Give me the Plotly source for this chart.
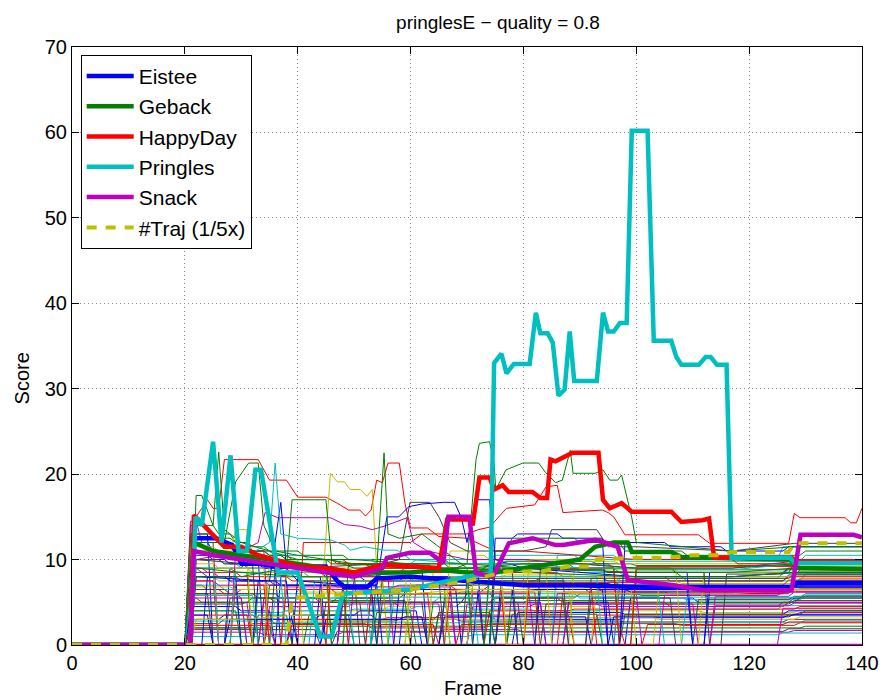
import plotly.graph_objects as go

# ---------------- data ----------------
SEG = [0, 21, 25, 28, 31, 34, 37, 40, 45, 48, 52, 55, 59, 63, 66, 70, 73, 76, 80, 84, 88,
       92, 96, 99, 103, 107, 111, 114, 117, 128, 138]
BG_SHIFT = [0, 1, -1, 2, -2, 1, 0, -1, 2, 1, -2, 0, 1, -1]

THIN_COLORS = ['#0000FF', '#008000', '#FF0000', '#00BFBF', '#BF00BF', '#BFBF00', '#404040']

bg_lines = [
    [0, 12, 11, 10, 9, 9, 8.5, 8.5, 8, 8, 8, 7.5, 7.5, 7.5, 7, 7, 7.5, 7.5, 7.5, 7.5, 7, 7, 7, 6.5, 6.5, 6.5, 6.5, 6.5, 6.5, 7, 7],
    [0, 14, 13, 12, 11, 10.5, 10, 10, 9.5, 9.5, 9, 9, 9.5, 9.5, 9, 9, 9.5, 9.5, 9.5, 9.5, 9, 9, 8.5, 8.5, 8.5, 8, 8, 8, 8, 8.8, 8.8],
    [0, 7, 6.5, 6, 6, 5.5, 5.5, 5.5, 5, 5, 5, 5, 4.5, 4.5, 4.5, 5, 5, 5.5, 5.5, 5.5, 5, 5, 5, 5, 5, 4.5, 4.5, 4.5, 4.5, 5, 5],
    [0, 10, 9.5, 9, 9, 8.5, 8.5, 8, 8, 7.5, 7.5, 7.5, 8, 8, 8, 8.5, 8.5, 9, 9, 9, 8.5, 8.5, 8, 8, 8, 7.5, 7.5, 7.5, 7.5, 8.3, 8.3],
    [0, 9, 8.5, 8, 7.5, 7.5, 7, 7, 7, 6.5, 6.5, 6.5, 6.5, 7, 7, 6.5, 6.5, 7, 7, 7, 6.5, 6.5, 6.5, 6, 6, 6, 6, 6, 6, 6.5, 6.5],
    [0, 5, 5, 4.5, 4.5, 4.5, 4, 4, 4, 4, 4, 4.5, 4.5, 4.5, 4, 4, 4, 4.5, 4.5, 4.5, 4.5, 4, 4, 4, 4, 4, 3.8, 3.8, 3.8, 4.2, 4.2],
    [0, 11, 10.5, 10, 10, 9.5, 9.5, 9, 9, 8.5, 8.5, 8.5, 9, 9, 8.5, 8.5, 9, 10, 10, 10, 9.5, 9.5, 9, 9, 9, 8.5, 8.5, 8.5, 8.5, 9.5, 9.5],
    [0, 3, 3, 3.5, 3.5, 3, 3, 3, 3.5, 3.5, 3.5, 3, 3, 3, 3.5, 3.5, 3.5, 3, 3, 3, 3, 3, 3, 3.2, 3.2, 3.2, 3.2, 3.2, 3.2, 3.5, 3.5],
    [0, 6, 6, 5.5, 5.5, 5, 5, 5, 5.5, 5.5, 5.5, 6, 6, 6, 6, 6, 5.5, 5.5, 5.5, 5.5, 6, 6, 6, 5.8, 5.8, 5.8, 5.5, 5.5, 5.5, 6, 6],
    [0, 2, 2, 2, 2.5, 2.5, 2.5, 2.5, 2.5, 2.5, 2, 2, 2, 2, 2, 2, 2.5, 2.5, 2.5, 2.5, 2.5, 2.5, 2.5, 2.5, 2.5, 2.3, 2.3, 2.3, 2.3, 2.6, 2.6],
    [0, 4, 4, 4, 3.8, 3.8, 3.8, 4, 4, 4, 4.2, 4.2, 4.2, 4.5, 4.5, 4.5, 4.2, 4.2, 4.2, 4, 4, 4, 4.2, 4.2, 4.2, 4.2, 4.2, 4.2, 4.2, 4.6, 4.6],
    [0, 1.5, 1.5, 1.5, 1.5, 1.2, 1.2, 1.2, 1.2, 1.5, 1.5, 1.5, 1.5, 1.5, 1.8, 1.8, 1.8, 1.8, 1.5, 1.5, 1.5, 1.5, 1.5, 1.5, 1.5, 1.5, 1.5, 1.5, 1.5, 1.7, 1.7],
    [0, 8, 7.5, 7, 7, 6.5, 6.5, 6, 6, 6, 6, 6.5, 6.5, 6.5, 6.5, 7, 7, 7.5, 7.5, 7, 7, 7, 7, 7, 6.8, 6.8, 6.8, 6.8, 6.8, 7.5, 7.5],
    [0, 2.5, 2.5, 3, 3, 3, 2.5, 2.5, 2.5, 2.8, 2.8, 2.8, 3, 3, 3, 2.8, 2.8, 2.8, 2.8, 2.8, 2.8, 2.8, 2.8, 2.7, 2.7, 2.7, 2.7, 2.7, 2.7, 3, 3],
    [0, 13, 0, 9, 10, 0, 8, 8, 0, 7, 7, 9, 9, 0, 5, 6, 0, 5, 5, 0, 5, 5, 0, 5.5, 5.5, 5.5, 5, 5, 5, 5.5, 5.5],
    [0, 9, 9, 8.5, 0, 7, 7, 7.5, 7.5, 0, 6, 6, 6.5, 6.5, 0, 7, 7, 7, 7.5, 7.5, 7.5, 7.5, 7, 7, 7, 7, 7, 7, 7, 7.8, 7.8],
    [0, 12, 12, 11.5, 11, 11, 10.5, 10, 10, 9.5, 9.5, 9.5, 9.5, 9, 9, 8.5, 8, 8.5, 8.5, 8.5, 8, 8, 8, 8, 8, 7.5, 7.5, 7.5, 7.5, 8, 8],
    [0, 7, 6.5, 0, 6, 6, 6, 5.5, 5.5, 5.5, 0, 5, 5, 5.5, 5.5, 5.5, 6, 6, 6, 6, 5.5, 5.5, 5.5, 5.5, 5.5, 5.3, 5.3, 5.3, 5.3, 5.8, 5.8],
    [0, 5.5, 5, 5, 5, 0, 4.5, 4.5, 4.5, 4.5, 5, 5, 5, 5, 5, 0, 4.5, 4.5, 4.5, 4.8, 4.8, 4.8, 4.5, 4.5, 4.5, 4.5, 4.5, 4.5, 4.5, 5, 5],
    [0, 11, 10.5, 13.5, 10, 9.5, 9, 8.5, 8.5, 8, 8, 0, 7, 7, 7.5, 7.5, 7, 7, 7, 7, 8, 8, 7.5, 7.5, 7.5, 7.2, 7.2, 7.2, 7.2, 7.8, 7.8],
    [0, 6.5, 6.5, 6, 6, 6, 5.5, 5.5, 0, 5.5, 5.5, 5.5, 6, 6, 6, 6, 6.5, 6.5, 6.5, 6.5, 6.5, 6, 6, 6, 6, 6, 6, 6, 6, 6.8, 6.8],
    [0, 4.5, 4.5, 4.5, 4, 4, 0, 3.5, 3.5, 3.5, 4, 4, 4, 0, 3.8, 3.8, 3.8, 0, 3.8, 3.8, 3.8, 3.8, 3.8, 3.6, 3.6, 3.6, 3.6, 3.6, 3.6, 4, 4],
    [0, 2, 2, 2, 2, 2.2, 2.2, 2.2, 2.2, 2.2, 2.2, 2.2, 2.2, 2.2, 2.2, 2.2, 2.2, 2, 2, 2, 2, 2, 2, 2, 2, 2, 2, 2, 2, 2.2, 2.2],
    [0, 3.5, 3.5, 3.5, 0, 3, 3, 3, 3, 3, 3, 3.2, 3.2, 3.2, 3.2, 3.5, 3.5, 3.5, 3.5, 3.5, 0, 3.5, 3.5, 3.5, 3.5, 3.5, 3.5, 3.5, 3.5, 3.8, 3.8],
    [0, 1, 1, 1, 1, 1, 1, 1, 1, 1, 1, 1, 1, 1, 1, 1, 1.2, 1.2, 1.2, 1.2, 1.2, 1.2, 1.2, 1.2, 1.2, 1.2, 1.2, 1.2, 1.2, 1.4, 1.4],
    [0, 0, 0, 0, 0, 0, 0, 0, 0, 0, 0, 0, 0, 0, 0, 0, 0, 0, 0, 0, 0, 0, 0, 0, 0, 0, 0, 0, 0, 0, 0],
    [0, 3, 3, 3, 3, 3, 2.8, 2.8, 2.8, 2.8, 2.8, 2.8, 0, 3, 3, 3, 3, 3, 3.2, 3.2, 3.2, 3.2, 3.2, 3.2, 3, 3, 3, 3, 3, 3.3, 3.3],
    [0, 8.5, 8, 8, 7.5, 7.5, 7, 7, 7, 6.8, 6.8, 6.8, 7, 7, 7, 7, 7.5, 7.5, 7.5, 7.8, 7.8, 7.8, 7.5, 7.5, 7.5, 7.5, 7.5, 7.5, 7.5, 8.2, 8.2],
    [0, 10.5, 10, 9.5, 9.5, 9, 0, 8, 8, 8, 7.5, 7.5, 8, 8, 8, 8, 0, 7, 7, 7, 7.2, 7.2, 7, 7, 7, 6.8, 6.8, 6.8, 6.8, 7.2, 7.2],
    [0, 5, 5, 5, 5.5, 5.5, 5.5, 5.5, 5.2, 5.2, 5.2, 5.2, 0, 5, 5, 5, 5, 5, 5.2, 5.2, 5.2, 5.2, 5.2, 5, 5, 5, 5, 5, 5, 5.5, 5.5],
    [0, 6, 6, 6, 6.5, 6.5, 6.5, 6.5, 6.5, 6, 6, 6, 6, 6, 6, 6.2, 6.2, 6.2, 6.2, 0, 6.2, 6.2, 6.2, 6.2, 6.2, 6, 6, 6, 6, 6.3, 6.3],
    [0, 2.8, 2.8, 2.8, 2.8, 2.6, 2.6, 2.6, 2.6, 2.6, 2.6, 2.6, 2.6, 2.6, 2.6, 2.6, 2.6, 2.6, 2.6, 2.6, 2.6, 2.6, 2.6, 2.6, 2.6, 2.6, 2.6, 2.6, 2.6, 2.9, 2.9],
    [0, 7.5, 7.5, 7, 7, 7, 7, 6.8, 6.8, 6.8, 6.5, 6.5, 6.8, 6.8, 6.8, 0, 6.5, 6.5, 6.5, 6.5, 6.5, 6.5, 6.3, 6.3, 6.3, 6.3, 6.3, 6.3, 6.3, 6.8, 6.8],
    [0, 9.5, 9, 9, 8.5, 8.5, 8, 8, 7.5, 7.5, 7.5, 7.5, 7.5, 7.5, 8, 8, 8, 8.2, 8.2, 8.2, 8, 8, 8, 8, 8, 8, 8, 8, 8, 8.6, 8.6],
    [0, 4.8, 4.8, 4.8, 5, 5, 5, 5, 5, 5, 5, 5, 5, 5, 5, 5, 5, 5, 0, 4.8, 4.8, 4.8, 4.8, 4.8, 4.8, 4.8, 4.8, 4.8, 4.8, 5.2, 5.2],
    [0, 0, 0, 0, 0, 0, 0, 0, 0, 0, 0, 0, 0, 0, 0, 0, 0, 9, 9, 9, 8.8, 8.8, 8.5, 8.5, 8.5, 8.5, 0, 8.5, 8.5, 9, 9],
    [0, 0, 0, 0, 0, 0, 0, 0, 0, 0, 0, 0, 0, 0, 0, 0, 0, 6.5, 6.5, 6.5, 6.5, 6.8, 6.8, 6.8, 6.8, 6.8, 6.8, 6.8, 6.8, 7.2, 7.2],
    [0, 0, 0, 0, 0, 0, 0, 0, 0, 0, 0, 0, 0, 0, 0, 0, 4, 4, 4, 4, 4.2, 4.2, 4.2, 4.2, 4.2, 4.2, 4.2, 4.2, 4.2, 4.5, 4.5],
    [0, 0, 0, 0, 0, 0, 0, 0, 0, 0, 0, 0, 0, 0, 0, 0, 0, 0, 0, 0, 10.5, 10.5, 10.5, 10, 10, 10, 10, 10, 10, 11.5, 11.5],
    [0, 0, 0, 0, 0, 0, 0, 0, 0, 0, 0, 0, 0, 0, 0, 0, 0, 0, 0, 0, 0, 0, 0, 0, 0, 0, 0, 5.7, 5.7, 6.2, 6.2],
    [0, 6.8, 6.8, 6.5, 6.5, 6.5, 6.5, 6.2, 6.2, 6.2, 6, 6, 6, 6, 6.2, 6.2, 6.2, 6.2, 6.2, 6.2, 6.2, 6.2, 6.2, 6.2, 6.2, 6.2, 6.2, 6.2, 6.2, 6.6, 6.6],
    [0, 1.8, 1.8, 1.8, 1.8, 1.8, 1.8, 1.8, 0, 1.6, 1.6, 1.6, 1.6, 1.6, 1.6, 1.6, 1.6, 1.6, 1.6, 1.6, 1.6, 1.6, 1.6, 1.6, 1.6, 1.6, 1.6, 1.6, 1.6, 1.9, 1.9],
    [0, 8, 8, 7.5, 7.5, 7.5, 7, 7, 7, 7, 7, 0, 6.5, 6.5, 6.5, 6.5, 6.5, 6.5, 6.5, 6.5, 6.5, 6.5, 6.5, 6.2, 6.2, 6.2, 6.2, 6.2, 6.2, 6.7, 6.7],
    [0, 13, 12.5, 12, 11.5, 11, 11, 10.5, 10.5, 10, 10, 10, 10, 10, 9.5, 9.5, 9.5, 9.8, 9.8, 9.8, 9.8, 9.5, 9.5, 9.3, 9.3, 9.3, 9.3, 9.3, 9.3, 9.8, 9.8],
    [0, 9, 8.5, 8.5, 8, 8, 8, 7.5, 7.5, 7.5, 7.5, 7.5, 7.5, 7.5, 7.5, 7.5, 7.3, 7.3, 7.3, 7.3, 7.3, 7.3, 7.3, 7.3, 7.3, 7, 7, 7, 7, 7.6, 7.6],
    [0, 12, 11.5, 11, 11, 10.5, 10.5, 10, 10, 10, 9.5, 9.5, 10, 10, 10, 10, 10.5, 10.5, 10.5, 10.5, 10, 10, 9.8, 9.8, 9.8, 9.8, 9.8, 9.8, 9.8, 10.5, 10.5],
    [0, 14.5, 12, 0, 11, 11, 0, 9, 9, 0, 8, 8, 0, 7, 7, 0, 6, 6, 6, 0, 6, 6, 6, 6, 0, 5.8, 5.8, 5.8, 5.8, 6.2, 6.2],
    [0, 10, 0, 9, 9, 0, 8, 8, 0, 7.5, 7.5, 0, 7, 7, 0, 7, 7, 0, 7, 7, 0, 7, 7, 0, 6.8, 6.8, 6.8, 6.8, 6.8, 7.4, 7.4],
    [0, 6, 0, 5.5, 0, 5.5, 5, 0, 5, 5, 0, 5, 5, 0, 5.5, 5.5, 0, 5.5, 5.5, 5.5, 0, 5.5, 5.5, 5.5, 5.5, 0, 5.3, 5.3, 5.3, 5.7, 5.7],
    [0, 0, 8, 8, 0, 7.5, 7.5, 0, 7, 7, 7, 0, 6.5, 6.5, 6.5, 0, 6.5, 6.5, 0, 6.5, 6.5, 6.5, 0, 6.5, 6.5, 6.5, 0, 6.3, 6.3, 6.9, 6.9],
    [0, 4, 4, 0, 3.5, 3.5, 0, 3.5, 3.5, 0, 3.8, 3.8, 0, 3.8, 3.8, 3.8, 0, 3.6, 3.6, 3.6, 3.6, 0, 3.6, 3.6, 3.6, 3.6, 3.6, 3.6, 3.6, 4, 4],
    [0, 7.5, 0, 7, 7, 0, 6.5, 6.5, 6.5, 0, 6, 6, 6, 0, 6.5, 6.5, 6.5, 0, 6.8, 6.8, 6.8, 0, 6.8, 6.8, 6.8, 6.8, 6.8, 6.8, 6.8, 7.2, 7.2],
    [0, 9, 9, 0, 8.5, 8.5, 8, 0, 7.5, 7.5, 7.5, 0, 7.5, 7.5, 7.5, 7.5, 0, 8, 8, 8, 8, 8, 0, 7.8, 7.8, 7.8, 7.8, 7.8, 7.8, 8.4, 8.4],
    [0, 5.5, 5.5, 5.5, 0, 5, 5, 5, 0, 4.8, 4.8, 4.8, 4.8, 4.8, 0, 4.8, 4.8, 4.8, 4.8, 0, 4.8, 4.8, 4.8, 4.8, 4.8, 4.8, 0, 4.6, 4.6, 4.9, 4.9],
    [0, 11.5, 11, 10.5, 0, 10, 10, 0, 9, 9, 9, 9, 0, 8.5, 8.5, 8.5, 8.5, 8.8, 8.8, 0, 8.8, 8.8, 8.8, 8.8, 8.8, 0, 8.5, 8.5, 8.5, 9.2, 9.2],
    [0, 10, 10, 9.5, 9.5, 0, 9, 9, 9, 8.5, 0, 8.5, 8.5, 8.5, 8.5, 8.5, 8.8, 8.8, 0, 8.8, 8.8, 8.8, 8.5, 8.5, 8.5, 8.5, 8.5, 0, 8.3, 8.9, 8.9],
    [0, 3.5, 0, 3, 3, 3, 3, 0, 3, 3, 3, 3, 3.3, 0, 3.3, 3.3, 3.3, 3.3, 3.3, 3.3, 3.3, 0, 3.3, 3.3, 3.3, 3.3, 3.3, 3.3, 3.3, 3.6, 3.6],
    [0, 12.5, 12, 11.5, 11, 10.5, 10, 10, 0, 9.5, 9.5, 9.5, 9.5, 9, 9, 0, 9, 9, 9, 9, 9, 9, 0, 8.8, 8.8, 8.8, 8.8, 8.8, 8.8, 9.4, 9.4],
    [0, 2.3, 2.3, 2.3, 2.3, 2.3, 0, 2.4, 2.4, 2.4, 2.4, 2.4, 2.4, 2.4, 0, 2.4, 2.4, 2.4, 2.4, 2.4, 2.4, 2.4, 2.4, 0, 2.4, 2.4, 2.4, 2.4, 2.4, 2.7, 2.7],
    [0, 5.8, 5.8, 5.8, 0, 5.5, 5.5, 5.5, 5.5, 0, 5.6, 5.6, 5.6, 5.6, 5.6, 0, 5.7, 5.7, 5.7, 5.7, 5.7, 5.7, 5.7, 5.7, 0, 5.6, 5.6, 5.6, 5.6, 6, 6],
    [0, 0, 0, 0, 0, 0, 0, 0, 0, 0, 0, 0, 0, 0, 0, 0, 0, 0, 0, 0, 0, 0, 0, 0, 0, 0, 0, 0, 0, 4.3, 4.3],
    [0, 0, 0, 0, 0, 0, 0, 0, 0, 0, 0, 0, 0, 0, 11, 10.5, 10, 0, 10, 10, 9.8, 9.8, 9.5, 9.5, 9.5, 9.5, 9.5, 9.5, 9.5, 10, 10],
    [0, 0, 0, 0, 0, 0, 0, 0, 0, 0, 0, 8, 8, 8, 0, 7.8, 7.8, 7.8, 7.8, 7.8, 0, 7.8, 7.8, 7.8, 7.8, 7.8, 7.8, 7.8, 7.8, 8.3, 8.3],
    [0, 0, 0, 0, 0, 0, 0, 0, 0, 0, 0, 0, 0, 0, 0, 0, 0, 12.5, 13, 13, 12.5, 12.5, 0, 12, 12, 11.5, 11.5, 11.5, 11, 11.5, 11.5],
    [0, 0, 0, 0, 0, 0, 0, 0, 0, 0, 0, 0, 0, 0, 0, 0, 11, 12.5, 12.5, 12.5, 12, 12, 11, 11, 11, 10.5, 10.5, 10.5, 10.5, 11, 11],
    [0, 0, 0, 0, 0, 0, 0, 0, 10, 9.5, 9, 9, 9, 8.5, 8.5, 8.5, 8.5, 8.5, 8.5, 9, 9, 9, 0, 9.2, 9.2, 9.2, 9.2, 9.2, 9.2, 9.6, 9.6],
]

# distinctive thin trajectories: frames and scores
sp_red1_x = [0, 21, 22, 24, 25, 26, 27, 33, 35, 38, 40, 45, 47, 49, 51, 52, 53, 54, 55, 56, 58, 59, 60, 63, 65, 70, 75, 80, 90, 100, 117, 118, 127, 128, 140]
sp_red1_y = [0, 0, 15, 17, 16, 16, 21.7, 21.7, 19.3, 19.3, 17.3, 17.3, 16.6, 15.8, 15.8, 15.1, 15.8, 19.3, 19, 21.3, 21.3, 16.6, 13.7, 13.7, 12.7, 12.5, 11, 11, 10.5, 10, 10, 9.5, 9.5, 10, 10]
sp_red2_x = [0, 40, 41, 60, 62, 70, 72, 74, 77, 82, 84, 86, 87, 94, 95, 96, 98, 111, 113, 117, 127, 128, 129, 137, 138, 139, 140]
sp_red2_y = [0, 0, 12, 12, 13, 13, 13.5, 13.8, 16.0, 16.4, 18.5, 18.7, 15.5, 15.8, 15.5, 15.0, 12.9, 12.9, 11.9, 11.9, 11.9, 15.4, 14.9, 14.9, 14.3, 14.3, 16]
sp_grn1_x = [0, 21, 22, 30, 40, 50, 60, 68, 70, 71.6, 72.2, 74, 74.8, 75.1, 76.9, 79.9, 82.7, 83.9, 85.7, 86.9, 88.3, 88.8, 92.7, 94.1, 95.3, 96.7, 97.4, 99.2, 100, 117, 128, 140]
sp_grn1_y = [0, 0, 9, 8.5, 8, 8, 8.5, 9, 9.5, 21.7, 23.6, 23.8, 21.3, 18.2, 20.5, 21.3, 21.3, 20.2, 19.0, 19.3, 22.8, 20.1, 20.1, 20.5, 19.3, 19.3, 19.9, 14.9, 12, 11, 11.5, 11.5]
sp_olv_x = [0, 21, 22, 30, 40, 44, 45.8, 47, 48.3, 49.3, 51.1, 52.3, 53.2, 53.5, 54, 55, 60, 70, 80, 90, 100, 117, 128, 140]
sp_olv_y = [0, 0, 3, 3, 3.5, 3.5, 20.1, 19.1, 19.1, 18.2, 18.2, 17.4, 18.2, 15, 9, 6, 6, 6.5, 6.5, 6, 6, 6, 6.5, 6.5]
sp_mag_x = [0, 21, 22, 30, 33, 34.2, 36.5, 42.3, 45.8, 48.3, 51.1, 53.2, 55.3, 59.4, 60.5, 63, 70, 80, 100, 117, 128, 140]
sp_mag_y = [0, 0, 10, 11, 12, 15.5, 14.9, 14.9, 14.9, 14.1, 13.9, 13.5, 13.9, 14.9, 12, 11, 10, 10, 9, 9, 9.8, 9.8]
sp_gry_x = [0, 21, 22, 40, 55, 58, 59.9, 63.4, 65.1, 67, 70, 80, 84, 85, 93, 95, 100, 117, 128, 140]
sp_gry_y = [0, 0, 10, 9, 9.5, 10, 16.7, 16.7, 14.9, 12, 11, 11, 11.5, 13.5, 13.5, 11.5, 11.5, 11, 11.9, 11.9]
sp_blu_x = [0, 21, 22, 35, 36, 37, 38, 40, 50, 54, 55.8, 57.9, 59.7, 62, 65.8, 67.8, 69, 70, 71.6, 74, 75, 80, 90, 100, 117, 128, 140]
sp_blu_y = [0, 0, 8, 7.5, 12, 16.7, 9, 7.5, 7, 7, 15, 15, 16.2, 16.5, 16.7, 16.7, 14.9, 12, 17, 17, 10, 9, 8.5, 8, 8, 8.5, 8.5]
sp_cyn_x = [0, 21, 22, 30, 35, 36, 37, 40, 45.8, 48.3, 49.3, 51.8, 55.3, 57.6, 60, 70, 80, 90, 100, 117, 128, 140]
sp_cyn_y = [0, 0, 11, 10, 12, 21.3, 13, 12.5, 12.3, 11.7, 11.1, 11.5, 11.1, 11.1, 10, 9.5, 9.5, 9, 9, 8.8, 9.5, 9.5]
sp_grn2_x = [0, 21, 22, 23, 25, 26, 27, 30, 35, 40, 45, 50, 60, 70, 80, 90, 100, 117, 128, 140]
sp_grn2_y = [0, 0, 17.5, 17.5, 14, 22.6, 13.5, 12, 11, 10, 10, 9.5, 9, 9, 9.5, 9.5, 9, 9, 9.5, 9.5]
sp_grn3_x = [0, 21, 22, 30, 38, 39, 43, 45, 46, 50, 54, 55.3, 56, 58, 62, 70, 80, 100, 117, 128, 140]
sp_grn3_y = [0, 0, 8, 8, 9, 17, 17, 17, 10, 9, 9, 22.5, 13, 12.5, 13, 9, 8.5, 8, 8, 8.5, 8.5]
sp_grn4_x = [0, 21, 22, 27, 29, 31.3, 33, 34, 36, 40, 45, 50, 60, 70, 80, 100, 117, 128, 140]
sp_grn4_y = [0, 0, 12, 12, 19.1, 21.3, 21.3, 14, 11, 10.5, 10, 10, 9.5, 9.5, 9, 8.5, 8.5, 9, 9]

special = [
    ('#FF0000', sp_red1_x, sp_red1_y), ('#FF0000', sp_red2_x, sp_red2_y),
    ('#008000', sp_grn1_x, sp_grn1_y), ('#BFBF00', sp_olv_x, sp_olv_y),
    ('#BF00BF', sp_mag_x, sp_mag_y), ('#404040', sp_gry_x, sp_gry_y),
    ('#0000FF', sp_blu_x, sp_blu_y), ('#00BFBF', sp_cyn_x, sp_cyn_y),
    ('#008000', sp_grn2_x, sp_grn2_y), ('#008000', sp_grn3_x, sp_grn3_y),
    ('#008000', sp_grn4_x, sp_grn4_y),
]

# class score curves
eistee_x = [0, 21, 21.6, 25.5, 28.4, 30, 33, 36.6, 38.4, 45, 47, 48.3, 52.3, 54, 60, 70, 80, 90, 100, 110, 117, 127.5, 128.5, 140]
eistee_y = [0, 0, 12.5, 12.5, 11.7, 9.5, 9.5, 9.2, 9.2, 9.2, 7.5, 6.8, 6.8, 7.8, 8, 7.5, 7, 7, 6.8, 6.8, 6.8, 6.8, 7.3, 7.3]
geback_x = [0, 21, 21.6, 25, 30, 35, 40, 45, 50, 55, 60, 65, 70, 75, 80, 85, 90, 92.7, 96, 98.5, 99.2, 106.2, 108, 113.8, 127.3, 128.5, 140]
geback_y = [0, 0, 12, 11, 10.5, 10, 9.5, 9, 8.5, 8.5, 8.5, 8.8, 8.5, 8.5, 9, 9.5, 10, 11.5, 12, 12, 10.9, 10.9, 10.3, 10.2, 10.0, 9.0, 8.9]
happy_x = [0, 21, 21.6, 24, 27, 30, 33, 36, 40, 45, 50, 55, 60, 65, 66.5, 70.5, 71, 72.2, 74, 74.8, 76.3, 77.4, 81.6, 83, 84.2, 84.8, 85.7, 87.4, 88.7, 93.3, 94.1, 95.3, 97.4, 99.2, 106.2, 108, 111.7, 112.9, 113.8, 127.5, 128.5, 140]
happy_y = [0, 0, 15.2, 13.5, 11.5, 11.5, 10.5, 10, 9.2, 9, 8.5, 9.4, 9.2, 9, 14.7, 14.7, 14.0, 19.6, 19.6, 18.2, 18.7, 17.9, 17.9, 17.2, 17.2, 21.7, 21.5, 22.0, 22.5, 22.5, 17.0, 16.0, 16.6, 15.6, 15.6, 14.4, 14.6, 14.8, 10.2, 10.2, 9.8, 9.8]
pringles_x = [0, 21, 21.9, 23, 25, 26.5, 28.1, 29.5, 31, 32.5, 33.5, 36.5, 40, 44, 46, 48, 60, 70, 74.2, 74.8, 76.1, 77.0, 78.3, 81.1, 82.2, 83.0, 84.3, 85.2, 86.2, 87.3, 88.2, 89.0, 93.0, 94.1, 95.0, 96.0, 97.1, 98.3, 99.2, 102.0, 103.1, 106.2, 107.1, 108.0, 111.1, 112.3, 113.2, 114.3, 116.0, 116.9, 127.3, 128, 140]
pringles_y = [0, 0, 15, 14, 23.8, 12, 22.2, 11, 11, 20.5, 20.5, 8.5, 8.5, 1, 1, 6, 6.5, 8, 8.4, 33.0, 34.1, 31.8, 32.9, 32.9, 38.9, 36.5, 36.5, 35.4, 29.2, 29.9, 36.7, 30.9, 30.9, 38.9, 36.7, 36.7, 37.7, 37.7, 60.2, 60.2, 35.6, 35.6, 33.7, 32.8, 32.8, 33.7, 33.7, 32.8, 32.8, 10.2, 10.2, 9.6, 9.6]
snack_x = [0, 21, 21.6, 25, 30, 35, 40, 45, 50, 55, 55.8, 59.9, 63.4, 65.8, 66.7, 70.4, 71.6, 74.6, 77.4, 81.6, 85.7, 87, 92.7, 95, 96.7, 98.5, 106.7, 111.6, 113.8, 127.5, 129.1, 138.5, 140]
snack_y = [0, 0, 11, 10.5, 10, 9.5, 9, 8.5, 8, 9, 10.2, 10.8, 10.8, 9.6, 15.0, 15.0, 8.4, 8.0, 11.9, 12.5, 11.7, 11.7, 12.3, 11.9, 11.5, 7.6, 7.0, 6.4, 6.4, 6.4, 12.9, 12.9, 12.6]
traj_x = [0, 38, 39, 45, 52, 60, 70, 77, 83, 88, 92, 93, 99, 105, 110, 114, 117, 127, 128, 140]
traj_y = [0, 0, 5.5, 5.8, 6.1, 6.5, 7.5, 8.6, 8.6, 9.2, 9.2, 10.0, 10.2, 10.2, 10.5, 10.5, 10.9, 10.9, 11.9, 11.9]

class_names = ['Eistee', 'Geback', 'HappyDay', 'Pringles', 'Snack']
class_colors = ['#0000FF', '#008000', '#FF0000', '#00BFBF', '#BF00BF']
class_x = [eistee_x, geback_x, happy_x, pringles_x, snack_x]
class_y = [eistee_y, geback_y, happy_y, pringles_y, snack_y]

# ---------------- figure ----------------
def steps(vals, s):
    xs, ys = [], []
    n = len(SEG)
    for i, v in enumerate(vals):
        start = SEG[i] + (s if i >= 2 else 0)
        end = (SEG[i + 1] - 1 + (s if i + 1 >= 2 else 0)) if i + 1 < n else 140
        xs += [start, end]
        ys += [v, v]
    return xs, ys

fig = go.Figure()
for i, vals in enumerate(bg_lines):
    xs, ys = steps(vals, BG_SHIFT[i % len(BG_SHIFT)])
    w = 2.5 if max(vals) == 0 else 1
    fig.add_trace(go.Scatter(x=xs, y=ys, mode='lines', showlegend=False, hoverinfo='skip',
                             line=dict(color=THIN_COLORS[i % 7], width=w)))
for col, xs, ys in special:
    fig.add_trace(go.Scatter(x=xs, y=ys, mode='lines', showlegend=False, hoverinfo='skip',
                             line=dict(color=col, width=1)))
for name, col, xs, ys in zip(class_names, class_colors, class_x, class_y):
    fig.add_trace(go.Scatter(x=xs, y=ys, mode='lines', name=name,
                             line=dict(color=col, width=4.5)))
fig.add_trace(go.Scatter(x=traj_x, y=traj_y, mode='lines', name='#Traj (1/5x)',
                         line=dict(color='#BFBF00', width=4, dash='10px,9px')))

FONT = 'Liberation Sans, Arial, sans-serif'
axis_common = dict(showline=True, linecolor='black', linewidth=1, mirror='ticks',
                   ticks='inside', ticklen=7, tickcolor='black', tickwidth=1,
                   showgrid=True, gridcolor='#8a8a8a', gridwidth=1, griddash='1px,3px',
                   zeroline=False, tickfont=dict(family=FONT, size=20, color='black'))
fig.update_xaxes(range=[0, 140], tickvals=[0, 20, 40, 60, 80, 100, 120, 140], **axis_common)
fig.update_yaxes(range=[0, 70], tickvals=[0, 10, 20, 30, 40, 50, 60, 70], **axis_common)
fig.update_layout(
    width=891, height=700,
    margin=dict(l=72, r=22, t=47, b=55),
    paper_bgcolor='white', plot_bgcolor='white',
    title=dict(text='pringlesE − quality = 0.8', xref='container', x=498 / 891, xanchor='center',
               yref='container', y=1 - 22 / 700, yanchor='middle',
               font=dict(family=FONT, size=19, color='black')),
    legend=dict(x=0.011, y=0.987, xanchor='left', yanchor='top', bgcolor='white',
                bordercolor='black', borderwidth=1, itemwidth=47, tracegroupgap=0,
                font=dict(family=FONT, size=21, color='black')),
    showlegend=True,
    annotations=[
        dict(text='Frame', xref='paper', yref='paper', x=(477 - 72) / 797, y=-(688 - 645) / 598,
             xanchor='center', yanchor='middle', showarrow=False,
             font=dict(family=FONT, size=20, color='black')),
        dict(text='Score', xref='paper', yref='paper', x=-(72 - 22) / 797, y=(645 - 378) / 598,
             xanchor='center', yanchor='middle', showarrow=False, textangle=-90,
             font=dict(family=FONT, size=20, color='black')),
    ],
)
fig.write_html('out.html')
